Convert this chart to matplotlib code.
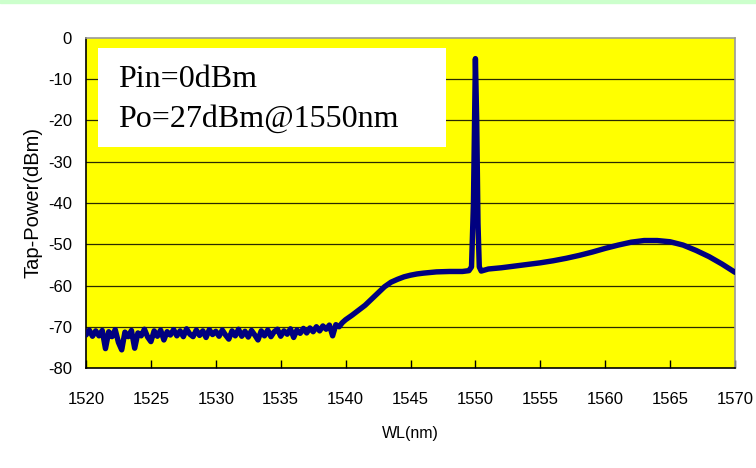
import numpy as np
import matplotlib
matplotlib.use("Agg")
from matplotlib import pyplot as plt
from matplotlib.patches import Rectangle

plt.rcParams['font.family'] = ['Liberation Sans', 'DejaVu Sans']
plt.rcParams['axes.unicode_minus'] = False

# noisy floor, 1520-1540 nm in 0.25 nm steps
noise_wl = [1520.00, 1520.25, 1520.50, 1520.75, 1521.00, 1521.25, 1521.50, 1521.75,
            1522.00, 1522.25, 1522.50, 1522.75, 1523.00, 1523.25, 1523.50, 1523.75,
            1524.00, 1524.25, 1524.50, 1524.75, 1525.00, 1525.25, 1525.50, 1525.75,
            1526.00, 1526.25, 1526.50, 1526.75, 1527.00, 1527.25, 1527.50, 1527.75,
            1528.00, 1528.25, 1528.50, 1528.75, 1529.00, 1529.25, 1529.50, 1529.75,
            1530.00, 1530.25, 1530.50, 1530.75, 1531.00, 1531.25, 1531.50, 1531.75,
            1532.00, 1532.25, 1532.50, 1532.75, 1533.00, 1533.25, 1533.50, 1533.75,
            1534.00, 1534.25, 1534.50, 1534.75, 1535.00, 1535.25, 1535.50, 1535.75,
            1536.00, 1536.25, 1536.50, 1536.75, 1537.00, 1537.25, 1537.50, 1537.75,
            1538.00, 1538.25, 1538.50, 1538.75, 1539.00, 1539.25, 1539.50, 1539.75]
noise_db = [-72.0, -70.8, -72.3, -71.0, -72.2, -70.9, -75.3, -71.2,
            -72.4, -70.7, -73.8, -75.6, -71.3, -72.4, -70.9, -75.2,
            -71.5, -72.2, -70.6, -72.5, -73.6, -71.0, -72.3, -70.8,
            -73.2, -71.2, -72.0, -70.7, -72.2, -71.0, -72.4, -70.5,
            -71.8, -72.4, -70.8, -72.1, -71.0, -72.6, -70.7, -71.9,
            -71.1, -72.3, -70.8, -72.0, -73.0, -71.0, -72.2, -70.6,
            -72.3, -71.1, -72.5, -70.9, -72.0, -73.2, -71.0, -72.2,
            -70.8, -72.4, -71.2, -70.6, -72.3, -71.0, -71.8, -70.5,
            -72.6, -70.8, -71.6, -70.4, -71.5, -70.3, -71.2, -70.0,
            -71.0, -69.8, -70.6, -69.6, -72.2, -69.5, -70.0, -69.0]

# ASE rise, plateau, signal peak and the hump on the long side
tail_wl = [1540.0, 1540.5, 1541.0, 1541.5, 1542.0, 1542.5, 1543.0, 1543.5, 1544.0,
           1544.5, 1545.0, 1545.5, 1546.0, 1547.0, 1548.0, 1549.0, 1549.5, 1549.7,
           1549.85, 1550.0, 1550.1, 1550.2, 1550.3, 1550.45, 1551.0, 1552.0, 1553.0,
           1554.0, 1555.0, 1556.0, 1557.0, 1558.0, 1559.0, 1560.0, 1561.0, 1562.0,
           1563.0, 1564.0, 1565.0, 1566.0, 1567.0, 1568.0, 1569.0, 1570.0]
tail_db = [-68.3, -67.2, -66.0, -64.8, -63.3, -61.8, -60.3, -59.2, -58.5,
           -57.9, -57.5, -57.2, -57.0, -56.7, -56.6, -56.6, -56.4, -55.5,
           -40.0, -5.0, -20.0, -45.0, -55.5, -56.5, -56.0, -55.7, -55.3,
           -54.9, -54.5, -54.0, -53.4, -52.7, -51.9, -51.0, -50.2, -49.5,
           -49.1, -49.1, -49.4, -50.2, -51.5, -53.0, -54.8, -56.8]

wl = noise_wl + tail_wl
power = noise_db + tail_db

x_ticks = [1520, 1525, 1530, 1535, 1540, 1545, 1550, 1555, 1560, 1565, 1570]
y_ticks = [0, -10, -20, -30, -40, -50, -60, -70, -80]

fig = plt.figure(figsize=(7.56, 4.68), dpi=100)
# thin green strip along the top edge
fig.patches.append(Rectangle((0, 1 - 3 / 468), 1, 3 / 468, transform=fig.transFigure,
                             color='#ccffcc', zorder=0))
ax = fig.add_axes([86 / 756, 1 - 368 / 468, 649 / 756, 330 / 468])
ax.set_facecolor('#ffff00')

for yv in y_ticks[1:-1]:
    ax.axhline(yv, color='#2a2a00', linewidth=0.9, zorder=1)

ax.plot(wl, power, color='#000080', linewidth=3.9, solid_capstyle='round',
        solid_joinstyle='round', zorder=3)

ax.set_xlim(1520, 1570)
ax.set_ylim(-80, 0)
ax.set_xticks(x_ticks)
ax.set_yticks(y_ticks)
ax.tick_params(axis='x', direction='in', length=6, width=1, pad=17, labelsize=12)
ax.tick_params(axis='y', direction='in', length=0, pad=10, labelsize=12)
ax.set_xlabel('WL(nm)', fontsize=11.5, labelpad=14)
ax.set_ylabel('Tap-Power(dBm)', fontsize=14.5, labelpad=4)

for side in ['left', 'bottom']:
    ax.spines[side].set_color('black')
    ax.spines[side].set_linewidth(1.2)
for side in ['top', 'right']:
    ax.spines[side].set_color('#999999')
    ax.spines[side].set_linewidth(1.2)

# white annotation box
box = Rectangle((98 / 756, 1 - 147 / 468), 348 / 756, 99 / 468, transform=fig.transFigure,
                facecolor='white', edgecolor='none', zorder=2)
ax.add_artist(box)
serif = ['Liberation Serif', 'DejaVu Serif']
ax.text((118 - 86) / 649, (368 - 87) / 330, 'Pin=0dBm', transform=ax.transAxes,
        family=serif, fontsize=23, zorder=4)
ax.text((118 - 86) / 649, (368 - 127) / 330, 'Po=27dBm@1550nm', transform=ax.transAxes,
        family=serif, fontsize=23, zorder=4)

fig.savefig('out.png', dpi=100)
